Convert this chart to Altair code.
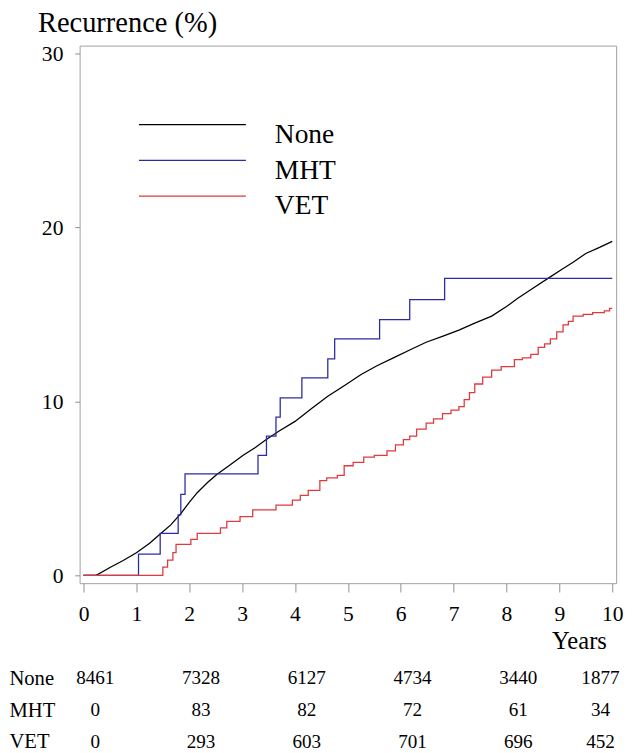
import altair as alt
import pandas as pd

# ---------------- data ----------------
groups = ["None", "MHT", "VET"]
colors = ["#000000", "#2b2ba6", "#e0393e"]

none_t = [0, 0.24, 0.5, 0.75, 1.0, 1.25, 1.45, 1.65, 1.84, 2.0, 2.15, 2.35, 2.52,
          2.75, 3.02, 3.25, 3.45, 3.7, 4.0, 4.32, 4.62, 4.93, 5.25, 5.55, 5.86,
          6.2, 6.48, 6.8, 7.1, 7.4, 7.72, 8.0, 8.2, 8.5, 8.8, 9.05, 9.26, 9.5,
          9.76, 10.0]
none_v = [0, 0, 0.45, 0.85, 1.3, 1.85, 2.37, 2.9, 3.55, 4.2, 4.75, 5.35, 5.8,
          6.3, 6.9, 7.35, 7.8, 8.3, 8.85, 9.6, 10.3, 10.9, 11.55, 12.05, 12.5,
          13.0, 13.4, 13.75, 14.1, 14.5, 14.9, 15.45, 15.9, 16.5, 17.1, 17.6,
          18.0, 18.5, 18.85, 19.2]

mht_t = [0, 1.04, 1.45, 1.79, 1.84, 1.92, 3.30, 3.46, 3.64, 3.72, 4.13, 4.62,
         4.75, 5.60, 6.17, 6.83, 10.0]
mht_v = [0, 1.22, 2.41, 3.48, 4.66, 5.83, 6.9, 8.0, 9.1, 10.2, 11.35, 12.45,
         13.6, 14.7, 15.85, 17.07, 17.07]

vet_t = [0, 1.50, 1.59, 1.69, 1.75, 2.03, 2.15, 2.59, 2.71, 2.96, 3.20, 3.64,
         3.95, 4.10, 4.25, 4.47, 4.60, 4.80, 4.93, 5.10, 5.30, 5.50, 5.74, 5.90,
         6.05, 6.17, 6.30, 6.48, 6.62, 6.79, 6.95, 7.10, 7.20, 7.30, 7.40, 7.55,
         7.72, 7.90, 8.15, 8.30, 8.46, 8.60, 8.72, 8.83, 8.95, 9.07, 9.17, 9.26,
         9.45, 9.63, 9.85, 9.95, 10.0]
vet_v = [0, 0.47, 0.88, 1.31, 1.78, 2.07, 2.41, 2.73, 3.1, 3.38, 3.76, 4.04,
         4.32, 4.6, 4.89, 5.45, 5.6, 5.75, 6.3, 6.5, 6.8, 6.9, 7.15, 7.5,
         7.8, 8.0, 8.4, 8.75, 9.0, 9.3, 9.5, 9.7, 10.1, 10.5, 11.0, 11.4,
         11.8, 12.0, 12.4, 12.5, 12.7, 13.1, 13.3, 13.6, 14.0, 14.4, 14.6, 14.9,
         15.0, 15.1, 15.2, 15.35, 15.35]

risk_times = [0, 2, 4, 6, 8, 10]
risk_none = [8461, 7328, 6127, 4734, 3440, 1877]
risk_mht = [0, 83, 82, 72, 61, 34]
risk_vet = [0, 293, 603, 701, 696, 452]

y_ticks = [0, 10, 20, 30]
x_ticks = list(range(0, 11))

# ---------------- tables ----------------
curves = pd.concat([
    pd.DataFrame({"group": "None", "t": none_t, "v": none_v}),
    pd.DataFrame({"group": "MHT", "t": mht_t, "v": mht_v}),
    pd.DataFrame({"group": "VET", "t": vet_t, "v": vet_v}),
], ignore_index=True)

risk = pd.concat([
    pd.DataFrame({"group": g, "t": risk_times, "n": vals})
    for g, vals in zip(groups, [risk_none, risk_mht, risk_vet])
], ignore_index=True)

FONT = "Liberation Serif, DejaVu Serif, Noto Serif, serif"
W, H = 547, 548
x_dom = [-0.0742, 10.0742]
y_dom = [-0.451, 30.451]

x_enc = alt.X("t:Q", scale=alt.Scale(domain=x_dom, nice=False, zero=False),
              axis=alt.Axis(values=x_ticks, tickSize=9, tickColor="#909090",
                            domain=False, grid=False, labelFontSize=22,
                            labelFont=FONT, labelColor="black", labelPadding=12,
                            title="Years", titleFont=FONT, titleFontSize=25,
                            titleFontWeight="normal", titleAlign="right",
                            titleBaseline="alphabetic", titleX=537, titleY=67,
                            titleColor="black"))
y_enc = alt.Y("v:Q", scale=alt.Scale(domain=y_dom, nice=False, zero=False),
              axis=alt.Axis(values=y_ticks, tickSize=5, tickColor="#909090",
                            domain=False, grid=False, labelFontSize=22,
                            labelFont=FONT, labelColor="black", labelPadding=12,
                            title="Recurrence (%)", titleFont=FONT,
                            titleFontSize=29, titleFontWeight="normal",
                            titleAngle=0, titleAlign="left",
                            titleBaseline="alphabetic", titleX=-43, titleY=-14,
                            titleColor="black"))
color_enc = alt.Color(
    "group:N",
    scale=alt.Scale(domain=groups, range=colors),
    legend=alt.Legend(title=None, orient="none", legendX=101, legendY=77,
                      symbolType="M-5.45,-1.05H5.45", symbolSize=400,
                      symbolStrokeWidth=1.3, labelFont=FONT, labelFontSize=28,
                      labelColor="black", labelOffset=70,
                      labelBaseline="middle", rowPadding=8.5, padding=0),
)

base = alt.Chart(curves).encode(x=x_enc, y=y_enc, color=color_enc,
                                order=alt.Order("t:Q"))
l_none = base.transform_filter(alt.datum.group == "None").mark_line(
    strokeWidth=1.3, interpolate="linear")
l_mht = base.transform_filter(alt.datum.group == "MHT").mark_line(
    strokeWidth=1.3, interpolate="step-after")
l_vet = base.transform_filter(alt.datum.group == "VET").mark_line(
    strokeWidth=1.3, interpolate="step-after")

top = alt.layer(l_none, l_mht, l_vet).properties(
    width=W, height=H,
    view=alt.ViewBackground(stroke="#a0a0a0", strokeWidth=1),
)

tbase = alt.Chart(risk).encode(
    x=alt.X("t:Q", scale=alt.Scale(domain=x_dom, nice=False, zero=False),
            axis=None),
    y=alt.Y("group:N", sort=groups, title=None,
            scale=alt.Scale(type="point", padding=0.5),
            axis=alt.Axis(labelAlign="left", labelPadding=72, ticks=False,
                          tickSize=0, domain=False, labelFont=FONT,
                          labelFontSize=21, labelColor="black")),
    text=alt.Text("n:Q"),
)
t_main = tbase.transform_filter(alt.datum.t < 10).mark_text(
    font=FONT, fontSize=19.5, dx=12, baseline="middle", color="black")
t_last = tbase.transform_filter(alt.datum.t >= 10).mark_text(
    font=FONT, fontSize=19.5, dx=-12, baseline="middle", color="black")
table = alt.layer(t_main, t_last).properties(
    width=W, height=97,
    view=alt.ViewBackground(stroke="transparent"),
)

chart = alt.vconcat(top, table, spacing=7).properties(
    padding={"top": -7, "left": 0, "right": 0, "bottom": 0}
).configure(font=FONT)

chart.save("out.html", embed_options={"renderer": "svg", "actions": False})
